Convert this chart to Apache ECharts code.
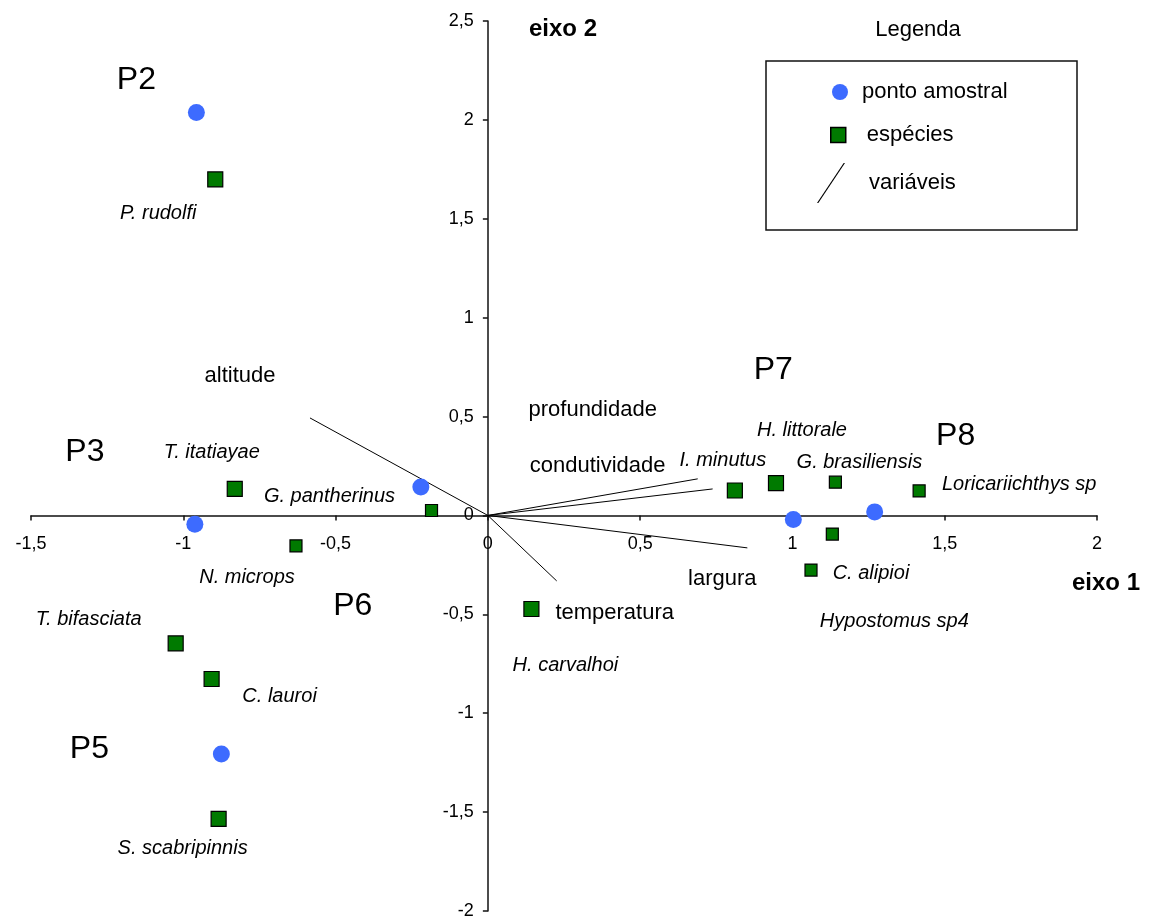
<!DOCTYPE html>
<html>
<head>
<meta charset="utf-8">
<script src="https://cdn.jsdelivr.net/npm/echarts@6/dist/echarts.min.js"></script>
<style>
  html, body { margin: 0; padding: 0; background: #fff; }
  #chart { width: 1151px; height: 921px; }
</style>
</head>
<body>
<div id="chart"></div>
<script>
// pontos amostrais
const sampleNames = ['P2', 'P3', 'P5', 'P6', 'P7', 'P8']
const sampleX = [-0.957, -0.962, -0.875, -0.22, 1.003, 1.27]
const sampleY = [2.037, -0.045, -1.206, 0.144, -0.02, 0.018]

// especies
const speciesNames = [
  'P. rudolfi', 'T. itatiayae', 'G. pantherinus', 'N. microps', 'T. bifasciata',
  'C. lauroi', 'S. scabripinnis', 'H. carvalhoi', 'I. minutus', 'H. littorale',
  'G. brasiliensis', 'Loricariichthys sp', 'Hypostomus sp4', 'C. alipioi'
]
const speciesX = [-0.895, -0.831, -0.185, -0.63, -1.025, -0.907, -0.884, 0.143, 0.811, 0.946, 1.141, 1.416, 1.131, 1.061]
const speciesY = [1.699, 0.134, 0.025, -0.154, -0.647, -0.827, -1.534, -0.473, 0.126, 0.163, 0.168, 0.124, -0.094, -0.276]

// variaveis ambientais (vetores a partir da origem)
const variableNames = ['altitude', 'profundidade', 'condutividade', 'largura', 'temperatura']
const variableX = [-0.584, 0.689, 0.738, 0.852, 0.226]
const variableY = [0.493, 0.185, 0.134, -0.164, -0.331]

// eixos
const xMin = -1.5
const xMax = 2
const yMin = -2
const yMax = 2.5
const tickStep = 0.5

const FONT = '"Liberation Sans", Arial, sans-serif'
const BLUE = '#3d6bff'
const GREEN = '#007a00'

// layout of the labels (pixel offsets from the mark)
const sampleLabelOffset = {
  P2: [-60, -32], P3: [-110, -72], P5: [-132, -5], P6: [-68, 119], P7: [-20, -149], P8: [81, -76]
}
const speciesLabelOffset = {
  'P. rudolfi': [-57, 34], 'T. itatiayae': [-23, -37], 'G. pantherinus': [-102, -14],
  'N. microps': [-49, 32], 'T. bifasciata': [-87, -24], 'C. lauroi': [68, 17],
  'S. scabripinnis': [-36, 30], 'H. carvalhoi': [34, 56], 'I. minutus': [-12, -30],
  'H. littorale': [26, -53], 'G. brasiliensis': [24, -20], 'Loricariichthys sp': [100, -6],
  'Hypostomus sp4': [62, 87], 'C. alipioi': [60, 3]
}
const smallSpecies = ['G. pantherinus', 'N. microps', 'G. brasiliensis', 'Loricariichthys sp', 'Hypostomus sp4', 'C. alipioi']
const variableLabelOffset = {
  altitude: [-70, -42], profundidade: [-105, -69], condutividade: [-115, -23],
  largura: [-25, 31], temperatura: [58, 32]
}

const GRID = { left: 31, right: 54, top: 21, bottom: 10 }

const decimalComma = v => String(v).replace('.', ',')

const chart = echarts.init(document.getElementById('chart'), null, { renderer: 'canvas' })

const axisCommon = {
  type: 'value',
  interval: tickStep,
  splitLine: { show: false },
  axisLine: { onZero: false, lineStyle: { color: '#111', width: 1.5 } },
  axisTick: { show: true, length: 5, lineStyle: { color: '#111', width: 1.5 } },
  axisLabel: { color: '#000', fontSize: 18, fontFamily: FONT, formatter: decimalComma }
}

const legendText = { color: '#000', fontSize: 22, fontFamily: FONT }

chart.setOption({
  animation: false,
  backgroundColor: '#fff',
  grid: { ...GRID, containLabel: false, outerBoundsMode: 'none' },
  xAxis: {
    ...axisCommon,
    min: xMin,
    max: xMax,
    axisLabel: { ...axisCommon.axisLabel, margin: 20 }
  },
  yAxis: {
    ...axisCommon,
    min: yMin,
    max: yMax,
    axisLabel: { ...axisCommon.axisLabel, margin: 14 }
  },
  legend: [
    {
      data: [{ name: 'ponto amostral', icon: 'circle' }],
      left: 832, top: 81, padding: 0, itemWidth: 34, itemHeight: 16,
      selectedMode: false, textStyle: legendText
    },
    {
      data: [{
        name: 'espécies',
        icon: 'path://M0,0H10V10H0Z',
        itemStyle: { color: GREEN, borderColor: '#000', borderWidth: 1.5, opacity: 1 }
      }],
      left: 830, top: 124, padding: 0, itemWidth: 47, itemHeight: 15,
      selectedMode: false, textStyle: legendText
    },
    {
      data: [{
        name: 'variáveis',
        icon: 'path://M0,39L26,0L27.3,0L1.3,39Z',
        itemStyle: { color: '#000' }
      }],
      left: 817, top: 163, padding: 0, itemWidth: 66, itemHeight: 40,
      selectedMode: false, textStyle: legendText
    }
  ],
  graphic: [
    {
      type: 'rect',
      shape: { x: 766, y: 61, width: 311, height: 169 },
      style: { fill: 'none', stroke: '#111', lineWidth: 1.5 },
      z: 1
    },
    {
      type: 'text', x: 918, y: 30,
      style: { text: 'Legenda', fill: '#000', font: '22px ' + FONT, align: 'center', verticalAlign: 'middle' }
    },
    {
      type: 'text', x: 563, y: 29,
      style: { text: 'eixo 2', fill: '#000', font: 'bold 24px ' + FONT, align: 'center', verticalAlign: 'middle' }
    },
    {
      type: 'text', x: 1106, y: 583,
      style: { text: 'eixo 1', fill: '#000', font: 'bold 24px ' + FONT, align: 'center', verticalAlign: 'middle' }
    }
  ],
  series: [
    {
      type: 'custom',
      name: 'variáveis',
      itemStyle: { color: '#000' },
      encode: { x: 0, y: 1 },
      silent: true,
      z: 2,
      data: variableNames.map((n, i) => [variableX[i], variableY[i]]),
      renderItem (params, api) {
        const origin = api.coord([0, 0])
        const end = api.coord([api.value(0), api.value(1)])
        const name = variableNames[params.dataIndex]
        const off = variableLabelOffset[name]
        return {
          type: 'group',
          children: [
            {
              type: 'line',
              shape: { x1: origin[0], y1: origin[1], x2: end[0], y2: end[1] },
              style: { stroke: '#000', lineWidth: 1 }
            },
            {
              type: 'text',
              x: end[0] + off[0],
              y: end[1] + off[1],
              style: {
                text: name, fill: '#000', font: '22px ' + FONT,
                align: 'center', verticalAlign: 'middle'
              }
            }
          ]
        }
      }
    },
    {
      type: 'scatter',
      name: 'espécies',
      symbol: 'rect',
      silent: true,
      z: 4,
      itemStyle: { color: GREEN, borderColor: '#000', borderWidth: 1.2, opacity: 1 },
      label: {
        show: true, position: 'inside', formatter: '{b}', color: '#000',
        fontSize: 20, fontStyle: 'italic', fontFamily: FONT
      },
      data: speciesNames.map((n, i) => ({
        name: n,
        value: [speciesX[i], speciesY[i]],
        symbolSize: smallSpecies.includes(n) ? 12 : 15,
        label: { offset: speciesLabelOffset[n] }
      }))
    },
    {
      type: 'scatter',
      name: 'ponto amostral',
      symbol: 'circle',
      symbolSize: 17,
      silent: true,
      z: 5,
      itemStyle: { color: BLUE, opacity: 1 },
      label: {
        show: true, position: 'inside', formatter: '{b}', color: '#000',
        fontSize: 32, fontFamily: FONT
      },
      data: sampleNames.map((n, i) => ({
        name: n,
        value: [sampleX[i], sampleY[i]],
        label: { offset: sampleLabelOffset[n] }
      }))
    }
  ]
})

// move both axes (line, ticks, labels) so that they cross at the origin
const zero = chart.convertToPixel({ gridIndex: 0 }, [0, 0])
chart.setOption({
  xAxis: { offset: zero[1] - (chart.getHeight() - GRID.bottom) },
  yAxis: { offset: GRID.left - zero[0] }
})
</script>
</body>
</html>
